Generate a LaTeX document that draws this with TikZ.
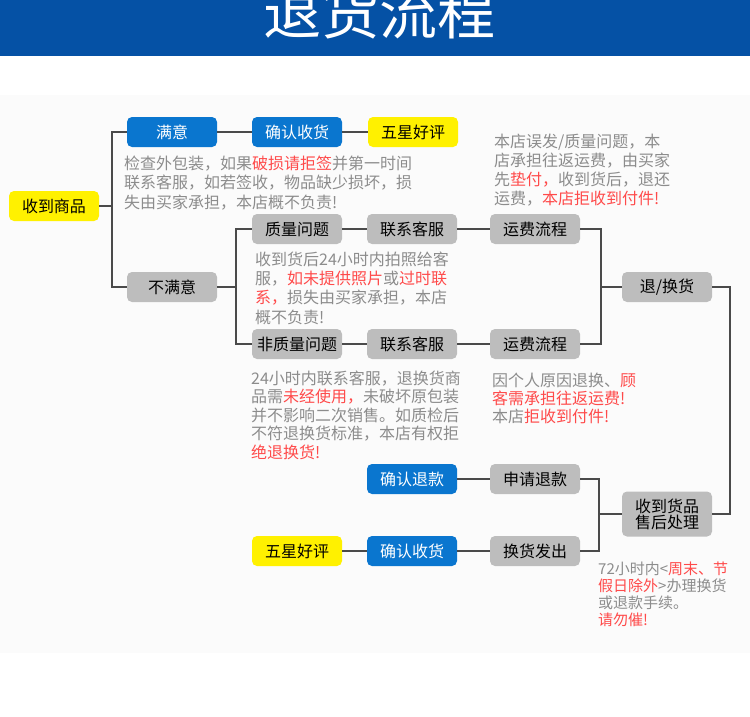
\documentclass[tikz,border=0pt]{standalone}
\usepackage{fontspec}
\setmainfont{Noto Sans CJK SC}
\usepackage{tikz}
\usepackage{xcolor}
\usetikzlibrary{positioning, calc}

\definecolor{bandblue}{HTML}{0551A5}
\definecolor{panelgray}{HTML}{FBFBFB}
\definecolor{boxblue}{HTML}{0A76CF}
\definecolor{boxyellow}{HTML}{FFF100}
\definecolor{boxgray}{HTML}{BDBDBD}
\definecolor{linegray}{HTML}{4A4A4A}
\definecolor{notegray}{HTML}{8C8C8C}
\definecolor{notered}{HTML}{FF4A4A}
\newcommand{\hl}[1]{\textcolor{notered}{#1}}

\begin{document}
\begin{tikzpicture}[x=1pt, y=-1pt,
    every node/.style={font=\fontsize{16}{19}\selectfont},
    flowbox/.style={rounded corners=5pt, minimum width=90pt, minimum height=30pt, inner sep=0pt, align=center},
    bluebox/.style={flowbox, fill=boxblue, text=white},
    yellowbox/.style={flowbox, fill=boxyellow, text=black},
    graybox/.style={flowbox, fill=boxgray, text=black},
    note/.style={anchor=base west, inner sep=0pt, align=left, text=notegray},
    link/.style={draw=linegray, line width=1.7pt}]
    \useasboundingbox (0,0) rectangle (750,717);
    \fill[bandblue] (0,0) rectangle (750,56);
    \fill[panelgray] (0,95) rectangle (750,653);
    \begin{scope}
        \clip (0,0) rectangle (750,56);
        \node[anchor=base, text=white, font=\fontsize{58}{58}\selectfont] (title) at (379,35) {退货流程};
    \end{scope}

    % left part
    \node[yellowbox] (goods) at (54,206) {收到商品};
    \node[bluebox] (satisfied) at (172,132) {满意};
    \node[bluebox] (confirmA) at (297,132) {确认收货};
    \node[yellowbox] (starA) at (413,132) {五星好评};
    \node[graybox] (unsatisfied) at (172,287) {不满意};

    % quality branch
    \node[graybox] (quality) at (297,229) {质量问题};
    \node[graybox] (contactA) at (412,229) {联系客服};
    \node[graybox] (freightA) at (535,229) {运费流程};
    \node[graybox] (nonquality) at (297,344) {非质量问题};
    \node[graybox] (contactB) at (412,344) {联系客服};
    \node[graybox] (freightB) at (535,344) {运费流程};
    \node[graybox] (exchange) at (667,287) {退/换货};

    % after sale
    \node[graybox, minimum height=45pt] (aftersale) at (667,514) {收到货品\\[-3pt]售后处理};
    \node[graybox] (apply) at (535,479) {申请退款};
    \node[bluebox] (refund) at (412,479) {确认退款};
    \node[graybox] (ship) at (535,551) {换货发出};
    \node[bluebox] (confirmB) at (412,551) {确认收货};
    \node[yellowbox] (starB) at (297,551) {五星好评};

    \coordinate (trunkA) at (112,206);
    \coordinate (trunkB) at (236,287);
    \coordinate (trunkC) at (601,287);
    \coordinate (trunkD) at (730,514);
    \coordinate (trunkE) at (599,514);

    \draw[link] (goods.east) -- (trunkA);
    \draw[link] (satisfied.west) -| (trunkA) |- (unsatisfied.west);
    \draw[link] (satisfied) -- (confirmA) -- (starA);
    \draw[link] (unsatisfied.east) -- (trunkB);
    \draw[link] (quality.west) -| (trunkB) |- (nonquality.west);
    \draw[link] (quality) -- (contactA) -- (freightA);
    \draw[link] (nonquality) -- (contactB) -- (freightB);
    \draw[link] (freightA.east) -| (trunkC) |- (freightB.east);
    \draw[link] (trunkC) -- (exchange.west);
    \draw[link] (exchange.east) -| (trunkD) -- (aftersale.east);
    \draw[link] (apply.east) -| (trunkE) |- (ship.east);
    \draw[link] (trunkE) -- (aftersale.west);
    \draw[link] (refund) -- (apply);
    \draw[link] (starB) -- (confirmB) -- (ship);

    % notes (placed at the baseline of their last line)
    \node[note, font=\fontsize{16}{19.5}\selectfont] (satisfiedNote) at (124,208)
        {检查外包装，如果\hl{破损请拒签}并第一时间\\联系客服，如若签收，物品缺少损坏，损\\失由买家承担，本店概不负责!};
    \node[note, font=\fontsize{16}{19}\selectfont] (freightNote) at (494,204)
        {本店误发/质量问题，本\\店承担往返运费，由买家\\先\hl{垫付，}收到货后，退还\\运费，\hl{本店拒收到付件!}};
    \node[note, font=\fontsize{16}{19.3}\selectfont] (qualityNote) at (255,323)
        {收到货后24小时内拍照给客\\服，\hl{如未提供照片}或\hl{过时联}\\\hl{系，}损失由买家承担，本店\\概不负责!};
    \node[note, font=\fontsize{16}{18.4}\selectfont] (nonQualityNote) at (251,458)
        {24小时内联系客服，退换货商\\品需\hl{未经使用，}未破坏原包装\\并不影响二次销售。如质检后\\不符退换货标准，本店有权拒\\\hl{绝退换货!}};
    \node[note, font=\fontsize{16}{18}\selectfont] (personalNote) at (492,422)
        {因个人原因退换、\hl{顾}\\\hl{客需承担往返运费!}\\本店\hl{拒收到付件!}};
    \node[note, font=\fontsize{15}{16.7}\selectfont] (timeNote) at (598,625)
        {72小时内<\hl{周末、节}\\\hl{假日除外}>办理换货\\或退款手续。\\\hl{请勿催!}};
\end{tikzpicture}
\end{document}
